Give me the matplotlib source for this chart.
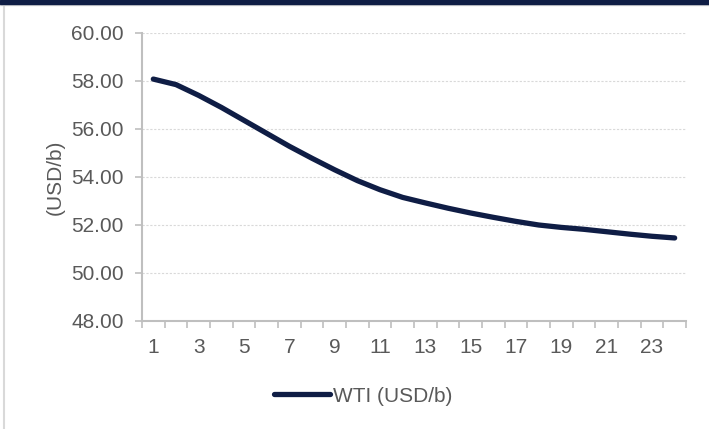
import matplotlib.pyplot as plt
from matplotlib.lines import Line2D
from matplotlib.patches import Rectangle

plt.rcParams['font.family'] = ['Liberation Sans', 'DejaVu Sans']

months = list(range(1, 25))
wti = [58.08, 57.85, 57.40, 56.90, 56.36, 55.82, 55.28, 54.78, 54.30, 53.85,
       53.47, 53.15, 52.92, 52.70, 52.50, 52.32, 52.15, 52.00, 51.90, 51.82,
       51.72, 51.62, 51.53, 51.46]
yticks = [48, 50, 52, 54, 56, 58, 60]
xlabels = list(range(1, 25, 2))

navy = '#0f1d45'
grey_txt = '#595959'
axis_col = '#bfbfbf'

fig = plt.figure(figsize=(7.09, 4.29), dpi=100)
ax = fig.add_axes([142 / 709, 1 - 321 / 429, 544 / 709, 288 / 429])

ax.plot(months, wti, color=navy, lw=3.8, solid_capstyle='round', solid_joinstyle='round')

ax.set_xlim(0.5, 24.5)
ax.set_ylim(48, 60)
ax.set_yticks(yticks)
ax.set_yticklabels([f"{v:.2f}" for v in yticks])
ax.set_xticks(xlabels)
ax.set_xticks([m - 0.5 for m in months] + [24.5], minor=True)

ax.grid(axis='y', color='#d9d9d9', ls=(0, (2, 1.5)), lw=0.8)
ax.set_axisbelow(True)
for s in ['top', 'right']:
    ax.spines[s].set_visible(False)
for s in ['left', 'bottom']:
    ax.spines[s].set_color(axis_col)
    ax.spines[s].set_linewidth(1.5)

ax.tick_params(axis='y', colors=axis_col, labelcolor=grey_txt, labelsize=15,
               length=5, width=1.2, pad=8)
ax.tick_params(axis='x', which='major', length=0, labelcolor=grey_txt, labelsize=15, pad=12)
ax.tick_params(axis='x', which='minor', length=5, width=1.2, color=axis_col)

ax.set_ylabel("(USD/b)", color=grey_txt, fontsize=15, labelpad=5)

handle = Line2D([], [], color=navy, lw=3.8, solid_capstyle='round')
fig.legend([handle], ["WTI (USD/b)"], loc='center', bbox_to_anchor=(363 / 709, 1 - 396 / 429),
           frameon=False, fontsize=15, labelcolor=grey_txt, handlelength=2.7,
           handletextpad=0.15)

# frame decorations
fig.patches.append(Rectangle((0, 1 - 3.5 / 429), 1, 3.5 / 429, transform=fig.transFigure,
                             color=navy, zorder=5))
fig.add_artist(Line2D([0, 1], [1 - 4.5 / 429] * 2, transform=fig.transFigure,
                      color='#d9d9d9', lw=1))
fig.add_artist(Line2D([4 / 709] * 2, [0, 1 - 4.5 / 429], transform=fig.transFigure,
                      color='#d9d9d9', lw=1.5))

fig.savefig("out.png", dpi=100)
